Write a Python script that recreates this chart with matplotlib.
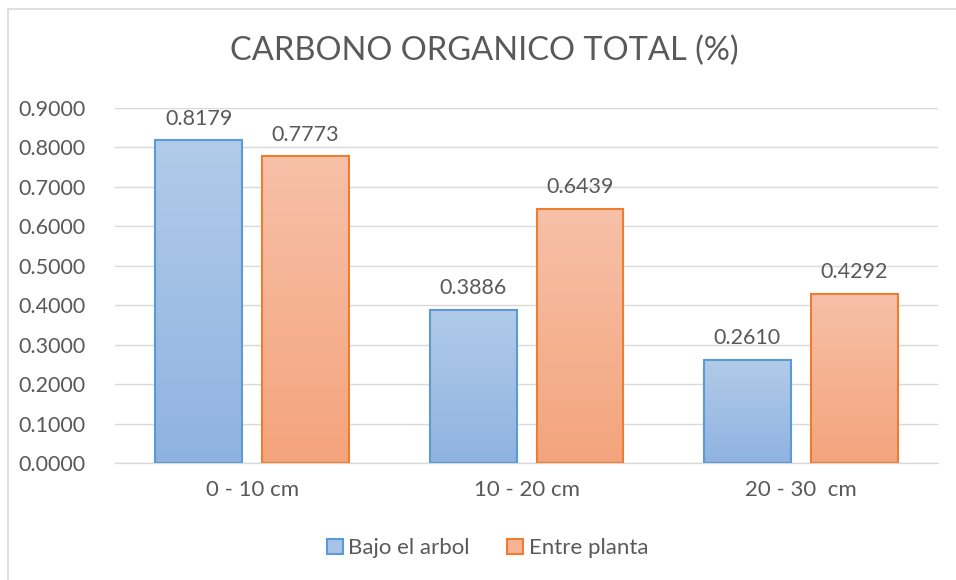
import numpy as np
import matplotlib
matplotlib.use("Agg")
import matplotlib.pyplot as plt
from matplotlib.patches import Rectangle
from matplotlib.colors import LinearSegmentedColormap

# datos
categorias = ["0 - 10 cm", "10 - 20 cm", "20 - 30  cm"]
bajo_arbol = [0.8179, 0.3886, 0.2610]
entre_planta = [0.7773, 0.6439, 0.4292]
series = ["Bajo el arbol", "Entre planta"]
yticks = [0.0, 0.1, 0.2, 0.3, 0.4, 0.5, 0.6, 0.7, 0.8, 0.9]

plt.rcParams['font.family'] = ['Lato', 'DejaVu Sans']
gris = "#595959"

fig = plt.figure(figsize=(9.56, 5.8), dpi=100)
ax = fig.add_axes([0.1203, 0.2017, 0.8609, 0.6121])

# borde del area del grafico (solo se ven arriba e izquierda)
fig.patches.append(Rectangle((8/956, -0.1), 1.2, 1.1 - 9/580, transform=fig.transFigure,
                             fill=False, edgecolor="#D9D9D9", linewidth=1.2))

x = np.arange(len(categorias))
ancho = 0.317
desp = 0.195

estilos = [
    ("#5B9BD5", ["#8FB3E0", "#B1CBE9"]),
    ("#ED7D31", ["#F4A47C", "#F7C0A8"]),
]

for valores, offs, nombre, (borde, grad) in zip([bajo_arbol, entre_planta], [-desp, desp],
                                              series, estilos):
    barras = ax.bar(x + offs, valores, ancho, facecolor="none", edgecolor=borde,
                    linewidth=1.5, label=nombre, zorder=3)
    cmap = LinearSegmentedColormap.from_list(nombre, grad)
    for b in barras:
        x0, y0 = b.get_x(), b.get_y()
        w, h = b.get_width(), b.get_height()
        ax.imshow(np.linspace(0, 1, 100).reshape(-1, 1), cmap=cmap, origin="lower",
                  extent=(x0, x0 + w, y0, y0 + h), aspect="auto", zorder=2)
        ax.text(x0 + w / 2, h + 0.03, f"{h:.4f}", ha="center", va="bottom",
                fontsize=15.5, color=gris)

ax.set_xlim(-0.5, 2.5)
ax.set_ylim(0, 0.9)
ax.set_yticks(yticks)
ax.set_yticklabels([f"{v:.4f}" for v in yticks])
ax.set_xticks(x)
ax.set_xticklabels(categorias)
ax.tick_params(axis="both", length=0, colors=gris)
ax.tick_params(axis="y", labelsize=15.5, pad=21)
ax.tick_params(axis="x", labelsize=16, pad=12)
ax.grid(axis="y", color="#D9D9D9", linewidth=1.0, zorder=0)
for s in ["top", "right", "left"]:
    ax.spines[s].set_visible(False)
ax.spines["bottom"].set_color("#D9D9D9")
ax.spines["bottom"].set_linewidth(1.0)

fig.text(0.507, 0.913, "CARBONO ORGANICO TOTAL (%)", ha="center", va="center",
         fontsize=23.5, color=gris)

h1 = Rectangle((0, 0), 1, 1, facecolor="#A7C3E6", edgecolor="#5B9BD5", linewidth=1.5)
h2 = Rectangle((0, 0), 1, 1, facecolor="#F6B394", edgecolor="#ED7D31", linewidth=1.5)
fig.legend([h1, h2], series, loc="center", bbox_to_anchor=(0.510, 0.055), ncol=2,
           frameon=False, fontsize=16, labelcolor=gris, handlelength=0.7,
           handleheight=0.7, handletextpad=0.25, columnspacing=1.7)

fig.savefig("out.png", dpi=100)
